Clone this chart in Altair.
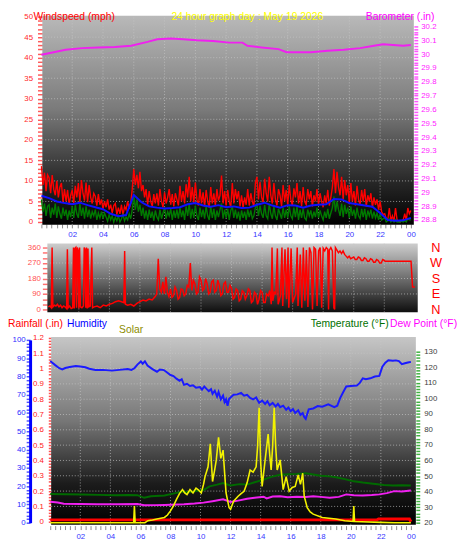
import altair as alt
import pandas as pd

W, H = 462, 540
FONT = "Liberation Sans"

# ---------------- data ----------------
# Panel 1: wind (mph), samples every 6 minutes (one row = one hour)
wind_t = [round(i * 0.1, 1) for i in range(241)]
gust = [13.6, 9.0, 12.0, 7.5, 11.5, 10.8, 7.0, 11.4, 8.0, 6.5,
        10.0, 6.0, 8.5, 9.5, 4.8, 8.0, 5.0, 7.8, 4.2, 6.5,
        7.8, 4.5, 8.8, 6.0, 9.5, 4.8, 10.2, 7.0, 5.2, 9.6,
        4.8, 9.0, 6.0, 4.5, 7.0, 6.2, 4.0, 6.8, 4.2, 5.5,
        3.2, 5.0, 3.6, 5.5, 3.0, 4.2, 2.2, 4.0, 4.5, 1.8,
        3.5, 2.0, 4.2, 1.6, 3.8, 3.0, 5.0, 3.2, 4.5, 8.0,
        12.9, 9.0, 11.5, 8.2, 12.2, 7.5, 9.0, 6.0, 8.0, 4.2,
        7.5, 5.0, 3.8, 6.8, 4.5, 7.0, 4.0, 8.0, 5.0, 3.6,
        7.2, 4.5, 6.0, 8.0, 4.2, 6.8, 3.8, 7.0, 5.5, 4.0,
        8.8, 5.0, 7.5, 4.5, 9.2, 6.0, 11.0, 5.0, 8.5, 4.5,
        9.6, 5.5, 4.0, 8.0, 4.5, 7.2, 3.8, 7.8, 5.0, 3.5,
        8.5, 4.5, 7.0, 4.0, 8.0, 5.2, 6.5, 11.3, 4.5, 7.5,
        4.0, 7.8, 5.0, 3.6, 9.5, 4.5, 8.0, 5.5, 7.5, 3.8,
        6.5, 3.5, 6.0, 4.2, 8.0, 4.0, 7.0, 5.0, 3.8, 9.5,
        11.0, 5.5, 9.8, 6.0, 4.8, 10.5, 7.0, 5.0, 11.0, 6.5,
        4.5, 9.5, 5.5, 4.0, 8.0, 6.5, 3.8, 9.0, 5.0, 7.8,
        4.2, 9.0, 5.5, 4.0, 8.2, 6.0, 9.5, 4.5, 7.5, 3.8,
        8.5, 5.0, 4.2, 8.0, 5.5, 7.5, 3.8, 6.5, 5.0, 8.0,
        4.2, 7.0, 5.0, 3.6, 6.5, 4.5, 7.8, 4.0, 6.0, 8.5,
        12.9, 7.0, 12.2, 8.5, 6.5, 11.0, 5.5, 10.2, 6.5, 9.0,
        4.5, 9.5, 5.0, 7.5, 4.0, 8.8, 5.5, 4.2, 7.8, 5.0,
        8.0, 3.8, 6.5, 5.0, 7.0, 3.5, 6.0, 4.2, 5.5, 3.0,
        5.0, 2.5, 1.8, 2.0, 0.8, 0.5, 3.4, 0.3, 1.5, 0.2,
        3.4, 0.5, 0.2, 0.0, 0.3, 0.5, 2.0, 0.4, 3.4, 2.0,
        2.8]
speed = [5.5, 2.5, 4.5, 1.5, 3.8, 4.2, 1.0, 3.5, 1.8, 4.5,
         1.0, 3.8, 2.0, 0.8, 3.5, 1.5, 3.0, 0.5, 2.8, 1.2,
         3.8, 1.0, 4.2, 2.0, 1.0, 4.5, 1.5, 3.5, 0.8, 3.8,
         1.2, 3.0, 0.8, 2.5, 1.5, 3.0, 0.5, 2.2, 1.0, 2.5,
         0.8, 2.2, 1.2, 0.2, 1.8, 0.5, 1.5, 0.0, 1.2, 0.3,
         1.5, 0.0, 0.8, 1.8, 0.3, 1.2, 0.5, 2.0, 0.8, 3.0,
         6.5, 3.0, 5.5, 2.5, 4.2, 1.5, 3.5, 0.8, 2.8, 0.5,
         3.0, 1.0, 2.5, 0.3, 2.8, 1.2, 0.5, 3.0, 0.8, 2.2,
         3.5, 0.8, 2.5, 1.5, 3.2, 0.5, 2.8, 1.0, 3.0, 0.8,
         3.5, 1.2, 2.8, 0.5, 3.8, 1.5, 4.5, 0.8, 3.2, 1.0,
         4.0, 1.5, 0.5, 3.5, 1.2, 3.0, 0.8, 3.8, 1.5, 0.5,
         3.8, 1.0, 3.2, 0.5, 2.8, 1.2, 3.0, 4.5, 0.8, 3.0,
         1.0, 3.2, 0.5, 2.8, 3.8, 1.0, 3.0, 0.8, 2.5, 0.3,
         2.8, 1.0, 2.5, 0.5, 3.0, 1.2, 2.8, 0.8, 1.5, 3.5,
         4.2, 1.5, 4.0, 2.0, 1.0, 4.2, 1.5, 0.8, 4.5, 2.0,
         0.8, 3.8, 1.5, 0.5, 3.2, 2.0, 0.8, 3.5, 1.0, 3.0,
         1.0, 3.8, 1.5, 0.8, 3.5, 1.2, 3.8, 0.5, 3.0, 1.0,
         3.2, 1.0, 0.5, 3.0, 1.5, 2.8, 0.8, 2.5, 1.2, 3.5,
         1.0, 2.8, 1.5, 0.5, 2.5, 1.0, 3.2, 0.8, 2.2, 3.5,
         6.2, 2.5, 5.0, 3.0, 1.5, 4.5, 1.2, 4.2, 2.0, 3.5,
         1.0, 3.8, 1.5, 3.0, 0.8, 3.5, 1.5, 0.8, 3.2, 1.2,
         3.2, 0.5, 2.8, 1.5, 3.0, 0.8, 2.5, 1.0, 2.2, 0.5,
         2.0, 0.5, 0.8, 1.0, 0.0, 0.3, 0.8, 0.0, 0.5, 0.0,
         0.6, 0.0, 0.0, 0.0, 0.2, 0.0, 0.3, 0.0, 0.8, 0.5,
         0.5]
avg_t = [round(i * 0.5, 1) for i in range(49)]
avg = [6.4, 5.8, 5.0, 4.6, 4.3, 4.7, 4.1, 3.6, 3.1, 2.0,
       1.4, 1.7, 6.6, 4.8, 3.8, 3.5, 3.3, 3.4, 3.6, 4.3,
       4.6, 4.0, 3.7, 4.1, 3.6, 3.8, 3.4, 3.5, 4.2, 4.7,
       4.0, 3.5, 4.1, 4.0, 3.5, 4.0, 4.2, 4.3, 5.6, 5.5,
       4.6, 4.3, 4.0, 3.7, 2.2, 0.5, 0.3, 0.4, 1.0]
baro_t = [0.0, 0.72, 1.57, 2.64, 3.7, 4.77, 5.83, 6.89, 7.53, 8.4,
          9.2, 10.08, 11.15, 12.2, 13.06, 13.38, 14.3, 15.4, 15.93, 17.5,
          18.6, 19.65, 20.7, 21.6, 22.2, 22.84, 23.5, 24.0]
baro = [29.995, 30.012, 30.031, 30.043, 30.048, 30.052, 30.06, 30.088, 30.107, 30.112,
        30.107, 30.10, 30.095, 30.083, 30.083, 30.06, 30.048, 30.036, 30.014, 30.014,
        30.024, 30.031, 30.043, 30.06, 30.071, 30.066, 30.06, 30.066]

# Panel 2: wind direction (degrees)
direction = [(0.0, 15), (0.1, 20), (0.2, 10), (0.25, 360), (0.3, 15), (0.4, 25), (0.5, 20), (0.6, 30),
             (0.7, 15), (0.8, 25), (0.9, 10), (1.0, 20), (1.1, 15), (1.2, 5), (1.25, 350), (1.3, 10),
             (1.4, 20), (1.5, 5), (1.6, 10), (1.65, 360), (1.7, 5), (1.75, 355), (1.8, 360), (1.85, 10),
             (1.9, 360), (1.95, 345), (2.0, 5), (2.05, 360), (2.1, 15), (2.2, 10), (2.3, 20), (2.35, 360),
             (2.4, 350), (2.45, 10), (2.5, 360), (2.55, 5), (2.6, 355), (2.65, 15), (2.75, 20), (2.85, 360),
             (2.9, 10), (3.0, 15), (3.2, 20), (3.4, 10), (3.6, 25), (3.8, 20), (4.0, 30), (4.2, 35),
             (4.4, 45), (4.6, 50), (4.8, 45), (4.95, 40), (5.0, 340), (5.05, 30), (5.2, 25), (5.4, 30),
             (5.6, 20), (5.8, 35), (6.0, 45), (6.2, 55), (6.4, 50), (6.6, 60), (6.8, 55), (7.0, 75),
             (7.1, 90), (7.2, 295), (7.3, 120), (7.4, 100), (7.5, 160), (7.6, 90), (7.7, 190), (7.8, 100),
             (7.9, 75), (8.0, 120), (8.1, 70), (8.2, 80), (8.3, 130), (8.4, 110), (8.5, 60), (8.6, 70),
             (8.7, 120), (8.8, 115), (8.9, 80), (9.0, 90), (9.1, 140), (9.2, 130), (9.3, 270), (9.4, 110),
             (9.5, 170), (9.6, 150), (9.7, 90), (9.8, 100), (9.9, 190), (10.0, 170), (10.1, 110), (10.2, 120),
             (10.3, 180), (10.4, 150), (10.5, 90), (10.6, 100), (10.7, 160), (10.8, 170), (10.9, 100), (11.0, 110),
             (11.1, 170), (11.2, 140), (11.3, 80), (11.4, 90), (11.5, 150), (11.6, 160), (11.7, 100), (11.8, 100),
             (11.9, 140), (12.0, 120), (12.1, 60), (12.2, 70), (12.3, 120), (12.4, 110), (12.5, 50), (12.6, 60),
             (12.7, 110), (12.8, 100), (12.9, 60), (13.0, 80), (13.1, 120), (13.2, 110), (13.3, 40), (13.4, 50),
             (13.5, 100), (13.6, 90), (13.7, 30), (13.8, 60), (13.9, 110), (14.0, 100), (14.1, 40), (14.2, 40),
             (14.3, 90), (14.4, 80), (14.5, 110), (14.6, 30), (14.65, 360), (14.7, 50), (14.8, 100), (14.9, 90),
             (15.0, 355), (15.05, 30), (15.2, 80), (15.3, 360), (15.35, 20), (15.5, 350), (15.6, 60), (15.7, 360),
             (15.75, 10), (15.9, 355), (16.0, 40), (16.2, 90), (16.3, 360), (16.35, 20), (16.5, 320), (16.6, 10),
             (16.7, 360), (16.8, 50), (16.9, 345), (17.0, 15), (17.1, 360), (17.2, 330), (17.3, 0), (17.4, 360),
             (17.5, 350), (17.6, 20), (17.7, 340), (17.8, 360), (17.9, 10), (18.0, 355), (18.1, 340), (18.2, 360),
             (18.3, 350), (18.35, 0), (18.4, 345), (18.5, 360), (18.6, 340), (18.7, 10), (18.75, 0), (18.8, 360),
             (18.9, 345), (19.0, 330), (19.1, 340), (19.2, 325), (19.3, 340), (19.4, 320), (19.5, 310), (19.6, 300),
             (19.7, 310), (19.8, 295), (19.9, 300), (20.0, 305), (20.1, 290), (20.2, 290), (20.3, 305), (20.4, 300),
             (20.5, 285), (20.6, 285), (20.7, 300), (20.8, 295), (20.9, 280), (21.0, 280), (21.1, 295), (21.2, 290),
             (21.3, 275), (21.4, 275), (21.5, 290), (21.6, 285), (21.7, 270), (21.8, 270), (21.9, 290), (22.0, 285),
             (22.05, 280), (23.75, 280), (23.85, 130), (24.0, 130)]

# Panel 3
humidity = [(0.0, 88.5), (0.12, 87.6), (0.33, 86.2), (0.6, 84.5), (0.8, 83.9), (1.0, 84.6), (1.3, 85.2),
            (1.7, 85.7), (2.0, 85.5), (2.33, 85.0), (2.6, 84.2), (3.0, 83.5), (3.5, 83.6), (4.1, 83.2),
            (4.6, 83.6), (5.16, 84.1), (5.4, 83.6), (5.6, 84.5), (5.8, 86.5), (6.03, 88.2), (6.15, 87.0),
            (6.3, 88.3), (6.47, 86.0), (6.8, 84.0), (7.1, 82.6), (7.3, 83.8), (7.56, 83.5), (7.8, 82.0),
            (8.0, 80.8), (8.2, 80.2), (8.4, 78.8), (8.6, 77.6), (8.75, 78.5), (8.9, 75.4), (9.1, 76.0),
            (9.3, 74.8), (9.5, 75.2), (9.7, 73.8), (9.96, 74.2), (10.1, 72.8), (10.25, 74.5), (10.4, 73.2),
            (10.55, 72.0), (10.7, 73.0), (10.8, 70.5), (10.95, 72.2), (11.1, 69.0), (11.2, 71.5), (11.35, 67.5),
            (11.5, 69.5), (11.6, 66.0), (11.7, 67.5), (11.8, 64.0), (11.9, 67.8), (12.0, 68.5), (12.2, 70.0),
            (12.45, 70.2), (12.7, 71.0), (12.9, 69.5), (13.1, 70.0), (13.3, 68.3), (13.5, 67.5), (13.7, 68.5),
            (13.9, 65.6), (14.1, 66.8), (14.3, 65.0), (14.45, 66.5), (14.6, 64.2), (14.8, 65.5), (15.0, 63.6),
            (15.15, 65.0), (15.3, 63.2), (15.5, 64.0), (15.7, 61.8), (15.85, 63.0), (16.0, 61.0), (16.15, 62.2),
            (16.3, 60.0), (16.5, 61.5), (16.65, 59.0), (16.8, 60.0), (16.9, 57.8), (17.0, 56.8), (17.1, 59.5),
            (17.2, 62.0), (17.5, 62.5), (17.8, 63.8), (18.1, 63.5), (18.5, 64.7), (18.9, 63.2), (19.1, 64.0),
            (19.3, 68.3), (19.5, 71.5), (19.7, 74.5), (20.0, 74.8), (20.4, 75.0), (20.6, 76.5), (20.8, 79.0),
            (21.0, 78.5), (21.3, 79.0), (21.6, 80.0), (21.9, 80.3), (22.1, 85.3), (22.3, 87.5), (22.5, 88.9),
            (22.8, 88.6), (23.0, 88.8), (23.2, 88.4), (23.4, 86.7), (23.6, 87.2), (23.8, 87.6), (24.0, 88.0)]
temperature = [(0.0, 38.5), (1.0, 38.3), (2.1, 38.2), (3.2, 37.9), (4.3, 37.7), (5.2, 37.8), (5.8, 37.7),
               (6.25, 36.0), (6.7, 37.0), (7.6, 37.5), (8.4, 39.2), (8.8, 40.0), (9.2, 39.6), (9.7, 40.3),
               (10.2, 41.0), (10.6, 43.4), (11.1, 44.5), (11.5, 45.5), (12.0, 43.9), (12.6, 44.8), (13.1, 44.5),
               (13.6, 46.0), (14.2, 47.7), (14.7, 49.5), (15.3, 50.8), (15.9, 51.2), (16.4, 51.4), (17.0, 51.8),
               (17.5, 51.0), (18.0, 50.2), (18.6, 49.8), (19.1, 49.1), (19.6, 48.0), (20.2, 46.6), (20.8, 45.8),
               (21.5, 45.1), (22.2, 44.3), (22.8, 43.9), (23.4, 44.1), (24.0, 43.9)]
dewpoint = [(0.0, 33.5), (0.5, 33.0), (0.9, 32.2), (2.0, 32.0), (3.1, 31.8), (4.5, 31.9), (5.8, 32.0),
            (6.25, 31.2), (7.0, 31.3), (7.6, 31.4), (8.9, 31.8), (9.6, 32.3), (10.2, 32.9), (10.8, 33.8),
            (11.5, 35.0), (12.0, 33.3), (12.5, 34.2), (13.1, 35.4), (13.6, 36.0), (14.2, 36.7), (14.4, 35.6),
            (14.8, 36.8), (15.3, 37.0), (15.8, 36.4), (16.4, 36.7), (17.0, 36.5), (17.5, 37.0), (18.0, 36.6),
            (18.6, 36.0), (19.2, 36.6), (19.7, 38.2), (20.2, 37.6), (20.8, 37.5), (21.4, 37.8), (21.9, 38.2),
            (22.4, 39.0), (22.9, 40.3), (23.4, 40.0), (24.0, 40.7)]
solar = [(0.0, 0), (5.55, 0), (5.6, 109), (5.65, 0), (6.3, 0), (6.5, 13), (6.8, 18), (7.1, 24), (7.6, 34),
         (7.8, 50), (8.0, 77), (8.2, 110), (8.4, 152), (8.6, 190), (8.8, 216), (8.95, 195), (9.1, 184),
         (9.3, 216), (9.5, 194), (9.7, 226), (9.85, 215), (10.05, 194), (10.2, 250), (10.3, 301), (10.5, 365),
         (10.65, 515), (10.8, 269), (10.95, 350), (11.05, 410), (11.2, 558), (11.35, 420), (11.5, 474),
         (11.6, 330), (11.7, 194), (11.9, 98), (12.0, 88), (12.2, 140), (12.5, 173), (12.7, 190), (12.9, 205),
         (13.1, 260), (13.3, 344), (13.5, 330), (13.7, 365), (13.8, 500), (13.9, 750), (14.0, 400), (14.1, 237),
         (14.3, 410), (14.5, 579), (14.6, 450), (14.7, 344), (14.8, 500), (14.9, 750), (15.0, 500), (15.1, 344),
         (15.3, 410), (15.5, 216), (15.7, 301), (15.9, 205), (16.1, 230), (16.3, 237), (16.5, 312), (16.65, 250),
         (16.8, 323), (16.9, 173), (17.1, 98), (17.3, 70), (17.5, 56), (18.1, 34), (19.0, 24), (19.6, 13),
         (20.15, 8), (20.2, 109), (20.25, 8), (20.7, 6), (22.0, 2), (22.9, 0), (24.0, 0)]
rainfall = [(0.0, 0.012), (21.75, 0.012), (21.85, 0.018), (23.9, 0.018), (24.0, 0.0)]

hour_grid = [2, 4, 6, 8, 10, 12, 14, 16, 18, 20, 22]
wind_grid = [5, 10, 15, 20, 25, 30, 35, 40, 45]
dir_grid = [90, 180, 270]
rain_grid = [0.1, 0.2, 0.3, 0.4, 0.5, 0.6, 0.7, 0.8, 0.9, 1.0, 1.1]

# ---------------- scales (pixel layout of the three panels) ----------------
def S(domain, rng):
    return alt.Scale(domain=domain, range=rng, nice=False, zero=False)

X1 = S([0, 24], [34, 410])
Y_WIND = S([0, 50], [213, 4])
Y_BARO = S([28.8, 30.2], [211, 14])
X2 = S([0, 24], [41, 414])
Y_DIR = S([0, 360], [302, 239])
X3 = S([0, 24], [43, 410])
Y_RAIN = S([0, 1.2], [518, 331])
Y_HUM = S([0, 100], [519, 333])
Y_TEMP = S([20, 130], [519, 345])
Y_SOL = S([0, 1200], [519, 332])

# panel extents in data units
P1 = dict(x=(0.06, 24.19), y=(-0.7, 50.2))
P2 = dict(x=(-0.06, 24.19), y=(-17, 383))
P3 = dict(x=(0.06, 24.33), y=(-1.1, 101.6))


def step_vals(lo, hi, step, nd=4):
    n = int(round((hi - lo) / step))
    return [round(lo + k * step, nd) for k in range(n + 1)]


def every(step):
    return f"abs(datum.value/{step} - round(datum.value/{step})) < 0.001 ? datum.label : ''"


def yaxis(orient, offset, values, lab_step, lab_color, tick_color, tick_size=4, pad=3, size=8):
    return alt.Axis(orient=orient, offset=offset, values=values, labelExpr=every(lab_step),
                    format="~r", labelColor=lab_color, tickColor=tick_color, tickSize=tick_size,
                    tickWidth=1.5, labelPadding=pad, labelFont=FONT, labelFontSize=size,
                    labelOverlap=False, labelFlush=False, domain=False, grid=False, title=None)


def xaxis(offset):
    return alt.Axis(orient="bottom", offset=offset, values=step_vals(0, 24, 1 / 3),
                    labelExpr="abs(datum.value/2 - round(datum.value/2)) < 0.001 && datum.value > 0.5 ? "
                              "(round(datum.value) % 24 < 10 ? '0' : '') + (round(datum.value) % 24) : ''",
                    labelColor="#3535ff", tickColor="#8a8a8a", tickSize=4, tickWidth=1, labelPadding=3,
                    labelFont=FONT, labelFontSize=8, labelOverlap=False, labelFlush=False,
                    domain=False, grid=False, title=None)


def background(P, xs, ys, stops):
    grad = alt.LinearGradient(gradient="linear", x1=0, x2=0, y1=0, y2=1,
                              stops=[alt.GradientStop(offset=o, color=c) for o, c in stops])
    return alt.Chart(pd.DataFrame({"a": [0]})).mark_rect(color=grad).encode(
        x=alt.X(datum=P["x"][0], scale=xs, axis=None), x2=alt.X2(datum=P["x"][1]),
        y=alt.Y(datum=P["y"][1], scale=ys, axis=None), y2=alt.Y2(datum=P["y"][0]))


GRID = dict(color="#c8c8c8", strokeDash=[1, 2], strokeWidth=1, opacity=0.7)


def vgrid(P, xs, ys):
    return alt.Chart(pd.DataFrame({"h": hour_grid})).mark_rule(**GRID).encode(
        x=alt.X("h:Q", scale=xs, axis=None),
        y=alt.Y(datum=P["y"][0], scale=ys, axis=None), y2=alt.Y2(datum=P["y"][1]))


def hgrid(P, xs, ys, vals, axis=None):
    return alt.Chart(pd.DataFrame({"v": vals})).mark_rule(**GRID).encode(
        y=alt.Y("v:Q", scale=ys, axis=axis),
        x=alt.X(datum=P["x"][0], scale=xs, axis=None), x2=alt.X2(datum=P["x"][1]))


def line(pairs, xs, ys, color, width, yaxis_=None, xaxis_=None):
    df = pd.DataFrame(pairs, columns=["t", "v"])
    return alt.Chart(df).mark_line(color=color, strokeWidth=width, strokeJoin="miter").encode(
        x=alt.X("t:Q", scale=xs, axis=xaxis_), y=alt.Y("v:Q", scale=ys, axis=yaxis_))


def label(text, x, y, color, size=10.5, align="left", baseline="middle"):
    return alt.Chart(pd.DataFrame({"s": [text]})).mark_text(
        color=color, fontSize=size, font=FONT, align=align, baseline=baseline).encode(
        x=alt.value(x), y=alt.value(y), text="s:N")


layers = []

# ---------- panel 1: wind speed + barometer ----------
layers.append(background(P1, X1, Y_WIND, [(0, "#b9b9b9"), (0.45, "#7a7a7a"), (0.8, "#262626"), (1, "#000000")]))
layers.append(vgrid(P1, X1, Y_WIND))
layers.append(hgrid(P1, X1, Y_WIND, wind_grid))
layers.append(line(list(zip(baro_t, baro)), X1, Y_BARO, "#f020f0", 2,
                   yaxis_=yaxis("right", 413 - W, step_vals(28.8, 30.2, 0.02), 0.1, "#ff22ff", "#ff55ff")))
layers.append(line(list(zip(wind_t, gust)), X1, Y_WIND, "#ff0000", 1.4,
                   yaxis_=yaxis("left", -35, list(range(0, 51)), 5, "#ff2a2a", "#ff5a5a", tick_size=5, pad=5),
                   xaxis_=xaxis(215 - H)))
layers.append(line(list(zip(wind_t, speed)), X1, Y_WIND, "#007a00", 1.4))
layers.append(line(list(zip(avg_t, avg)), X1, Y_WIND, "#1010ff", 2))

# ---------- panel 2: wind direction ----------
layers.append(background(P2, X2, Y_DIR, [(0, "#cdcdcd"), (0.5, "#707070"), (1, "#0e0e0e")]))
layers.append(vgrid(P2, X2, Y_DIR))
layers.append(hgrid(P2, X2, Y_DIR, dir_grid,
                    axis=alt.Axis(orient="right", offset=417 - W, values=[0, 90, 180, 270, 360],
                                  labelExpr="datum.value == 90 ? 'E' : datum.value == 180 ? 'S' : "
                                            "datum.value == 270 ? 'W' : 'N'",
                                  labelColor="#ff0000", labelFont=FONT, labelFontSize=13, labelAlign="center",
                                  labelPadding=18, ticks=False, domain=False, grid=False, title=None,
                                  labelOverlap=False, labelFlush=False)))
layers.append(line(direction, X2, Y_DIR, "#ff0000", 1.5,
                   yaxis_=yaxis("left", -40, step_vals(0, 360, 30), 90, "#ff5050", "#ff7070", tick_size=5, pad=2)))

# ---------- panel 3: rain, humidity, solar, temperature, dew point ----------
layers.append(background(P3, X3, Y_HUM, [(0, "#c6c6c6"), (0.45, "#767676"), (0.78, "#1c1c1c"), (1, "#000000")]))
layers.append(vgrid(P3, X3, Y_HUM))
layers.append(hgrid(P3, X3, Y_RAIN, rain_grid))
layers.append(line(dewpoint, X3, Y_TEMP, "#f020f0", 2))
layers.append(line(temperature, X3, Y_TEMP, "#006a00", 2,
                   yaxis_=yaxis("right", 415 - W, step_vals(20, 130, 2), 10, "#3c3c3c", "#40b040", pad=4)))
layers.append(line(humidity, X3, Y_HUM, "#1a1aff", 2,
                   yaxis_=alt.Axis(orient="left", offset=-22.5, values=step_vals(0, 100, 2),
                                   labelExpr=every(10), format="~r", labelColor="#2a2aff", tickColor="#5050ff",
                                   tickSize=4, tickWidth=1.5, labelPadding=1, labelFont=FONT, labelFontSize=8,
                                   labelOverlap=False, labelFlush=False, domain=True, domainColor="#0000ff",
                                   domainWidth=3, grid=False, title=None),
                   xaxis_=xaxis(522 - H)))
layers.append(line(rainfall, X3, Y_RAIN, "#ff0000", 3,
                   yaxis_=yaxis("left", -44, step_vals(0, 1.2, 0.02), 0.1, "#ff2020", "#ff5050", tick_size=3, pad=5)))
layers.append(line(solar, X3, Y_SOL, "#f2f200", 1.6))

# ---------- titles ----------
layers.append(label("Windspeed (mph)", 26, 7.8, "#ff0000", baseline="alphabetic"))
layers.append(label("24 hour graph day : May 19 2026", 243.5, 7.8, "#ffff00", align="center", baseline="alphabetic"))
layers.append(label("Barometer (.in)", 434, 7.8, "#ff00ff", align="right", baseline="alphabetic"))
layers.append(label("Rainfall (.in)", 0, 317, "#ff0000"))
layers.append(label("Humidity", 60, 317, "#0000ff"))
layers.append(label("Solar", 113, 323, "#8c8c00"))
layers.append(label("Temperature (°F)", 308, 317, "#007000"))
layers.append(label("Dew Point (°F)", 457, 317, "#ff00ff", align="right"))

chart = alt.layer(*layers).resolve_scale(x="independent", y="independent").resolve_axis(
    x="independent", y="independent").properties(
    width=W, height=H, autosize=alt.AutoSizeParams(type="none"), padding=0,
    background="#ffffff").configure_view(stroke=None)

chart.save("out.html", embed_options={"renderer": "svg", "actions": False})
